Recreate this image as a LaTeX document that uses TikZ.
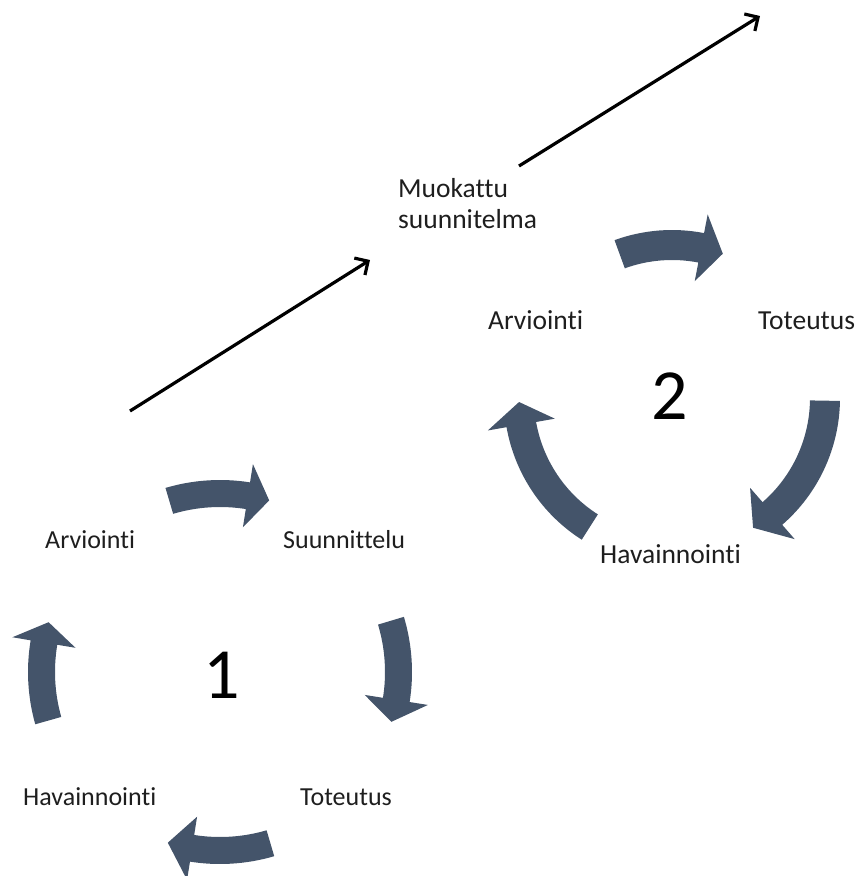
\documentclass[tikz,border=0pt]{standalone}
\usepackage{fontspec}
\setmainfont{Carlito}[Ligatures=NoCommon]
\usetikzlibrary{arrows.meta,calc}
\definecolor{slate}{HTML}{44546A}
\definecolor{txt}{HTML}{1E1E1E}
\newcommand\cycarrow[7]{%
  \pgfmathsetmacro\cyRo{#2+#3}\pgfmathsetmacro\cyRi{#2-#3}%
  \pgfmathsetmacro\cyBo{#2+#4}\pgfmathsetmacro\cyBi{#2-#4}%
  \fill[arrowfill,shift={(#1)}] (#5:\cyRo pt) arc[start angle=#5,end angle=#6,radius=\cyRo pt]
    -- (#6:\cyBo pt) -- (#7:#2pt) -- (#6:\cyBi pt) -- (#6:\cyRi pt)
    arc[start angle=#6,end angle=#5,radius=\cyRi pt] -- cycle;}
\tikzset{
  arrowfill/.style={fill=slate},
  lblA/.style={inner sep=0pt,anchor=base west,text=txt,font=\fontsize{26}{31}\selectfont},
  lblB/.style={inner sep=0pt,anchor=base west,text=txt,font=\fontsize{27.5}{31}\selectfont},
  bignum/.style={inner sep=0pt,text=black,font=\fontsize{72}{80}\selectfont},
  trend/.style={line width=3.2pt,-{Straight Barb[length=10pt,width=20pt]}}
}
\begin{document}
\begin{tikzpicture}
\useasboundingbox (0pt,0pt) rectangle (859pt,-876pt);
% cycle 1
\coordinate (C1) at (220pt,-672pt);
\cycarrow{C1}{178.5}{13.5}{32}{106.5}{81}{74}
\cycarrow{C1}{178.5}{13.5}{32}{16.7}{-9}{-16.2}
\cycarrow{C1}{178.5}{13.5}{32}{-73.6}{-99}{-107}
\cycarrow{C1}{178.5}{13.5}{32}{195.8}{170.5}{163.8}
\node[lblA] (arv1) at (45pt,-548pt) {Arviointi};
\node[lblA] (suu1) at (283pt,-548pt) {Suunnittelu};
\node[lblA] (hav1) at (23pt,-805pt) {Havainnointi};
\node[lblA] (tot1) at (300pt,-805pt) {Toteutus};
\node[bignum] (n1) at (222pt,-675pt) {1};
% cycle 2
\coordinate (C2) at (672pt,-398pt);
\cycarrow{C2}{153}{15}{34}{110}{79}{70.6}
\cycarrow{C2}{153}{15}{34}{-1}{-49}{-58}
\cycarrow{C2}{153}{15}{34}{237.5}{190}{181.5}
\node[lblB,align=left] (muok) at (398pt,-228pt) {Muokattu\\suunnitelma};
\node[lblB] (arv2) at (488pt,-329pt) {Arviointi};
\node[lblB] (tot2) at (758pt,-329pt) {Toteutus};
\node[lblB] (hav2) at (600pt,-563pt) {Havainnointi};
\node[bignum] (n2) at (670pt,-396pt) {2};
% trend arrows
\coordinate (t1s) at (130pt,-411pt);
\coordinate (t1e) at (370pt,-260pt);
\coordinate (t2s) at (519pt,-166pt);
\coordinate (t2e) at (760pt,-16pt);
\draw[trend] (t1s) -- (t1e);
\draw[trend] (t2s) -- (t2e);
\end{tikzpicture}
\end{document}
